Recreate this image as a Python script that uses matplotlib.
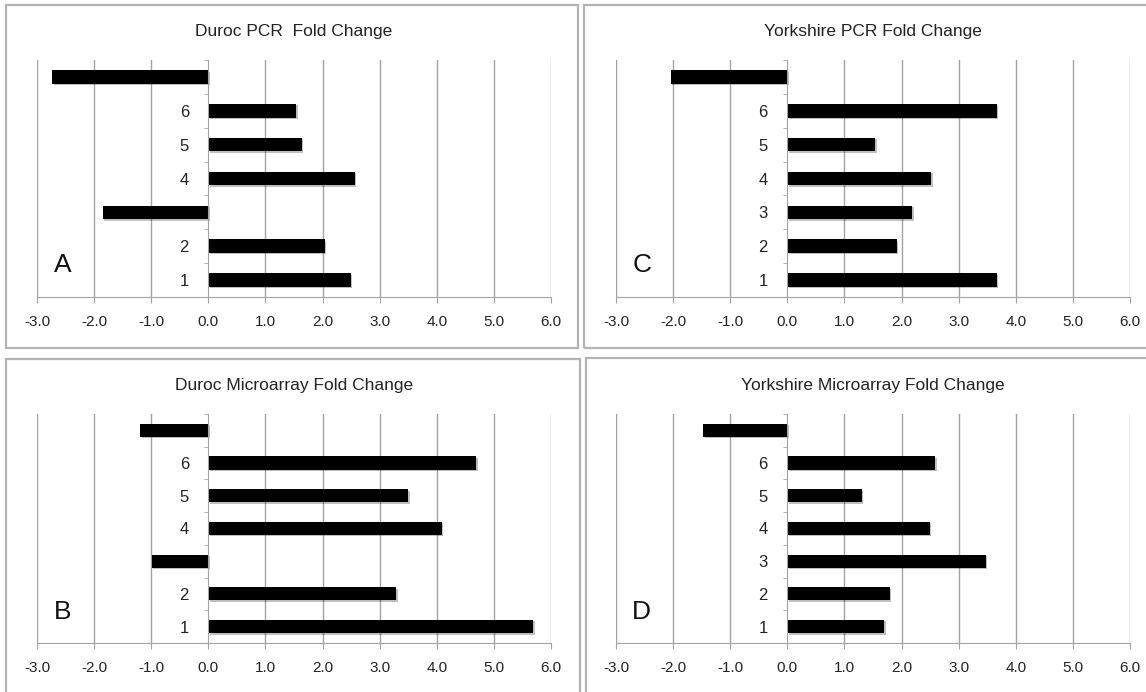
import matplotlib.pyplot as plt
import matplotlib.patheffects as pe
from matplotlib.patches import Rectangle

plt.rcParams['font.family'] = ['Liberation Sans', 'DejaVu Sans']

# positions 1..7 along y; top one (7) has no label
positions = [1, 2, 3, 4, 5, 6, 7]

duroc_pcr = [2.49, 2.04, -1.85, 2.56, 1.64, 1.54, -2.73]
duroc_micro = [5.69, 3.29, -0.99, 4.09, 3.50, 4.69, -1.19]
york_pcr = [3.67, 1.92, 2.19, 2.52, 1.54, 3.67, -2.04]
york_micro = [1.70, 1.80, 3.48, 2.49, 1.30, 2.59, -1.47]

duroc_labels = ['1', '2', '', '4', '5', '6', '']
york_labels = ['1', '2', '3', '4', '5', '6', '']

x_ticks = [-3, -2, -1, 0, 1, 2, 3, 4, 5, 6]

panels = [
    # title, values, labels, letter, axes rect
    ("Duroc PCR  Fold Change", duroc_pcr, duroc_labels, "A", [0.0323, 0.5708, 0.4485, 0.3425]),
    ("Yorkshire PCR Fold Change", york_pcr, york_labels, "C", [0.5375, 0.5708, 0.4485, 0.3425]),
    ("Duroc Microarray Fold Change", duroc_micro, duroc_labels, "B", [0.0323, 0.0708, 0.4485, 0.331]),
    ("Yorkshire Microarray Fold Change", york_micro, york_labels, "D", [0.5375, 0.0708, 0.4485, 0.331]),
]

W, H = 1146, 692
fig = plt.figure(figsize=(W / 100, H / 100), dpi=100)

# panel frames (pixel boxes: left, top, right, bottom)
frames = [(6, 5, 578, 348), (584, 5, 1160, 348), (6, 359, 580, 700), (586, 358, 1160, 700)]
for l, t, r, b in frames:
    fig.patches.append(Rectangle((l / W, 1 - b / H), (r - l) / W, (b - t) / H,
                                 transform=fig.transFigure, fill=False,
                                 edgecolor='#b3b3b3', linewidth=1.6))

grid_col = '#a3a3a3'

for title, vals, labels, letter, rect in panels:
    ax = fig.add_axes(rect)
    ax.barh(positions, vals, height=0.4, color='black', zorder=3,
            path_effects=[pe.SimplePatchShadow(offset=(1, -1), alpha=0.25), pe.Normal()])
    ax.set_xlim(-3, 6)
    ax.set_ylim(0.5, 7.5)
    ax.set_xticks(x_ticks)
    ax.set_xticklabels([f"{v:.1f}" for v in x_ticks], fontsize=11, color='#222222')
    ax.tick_params(axis='x', length=4, color=grid_col, pad=9)
    for v in x_ticks:
        if v != 0:
            ax.axvline(v, color=grid_col, linewidth=1, zorder=1)

    ax.spines['top'].set_visible(False)
    ax.spines['right'].set_visible(False)
    ax.spines['left'].set_position(('data', 0))
    ax.spines['left'].set_color(grid_col)
    ax.spines['bottom'].set_color(grid_col)
    ax.spines['left'].set_zorder(4)

    ax.set_yticks(positions)
    ax.set_yticklabels(labels, fontsize=12, color='#222222')
    ax.set_yticks([p + 0.5 for p in [0] + positions], minor=True)
    ax.tick_params(axis='y', which='major', length=0, pad=14)
    ax.tick_params(axis='y', which='minor', length=3, color=grid_col)

    ax.text(-2.55, 1.45, letter, fontsize=19, color='#111111', ha='center', va='center')
    ax.set_title(title, fontsize=12.5, color='#222222', pad=17)

fig.savefig('out.png', dpi=100)
